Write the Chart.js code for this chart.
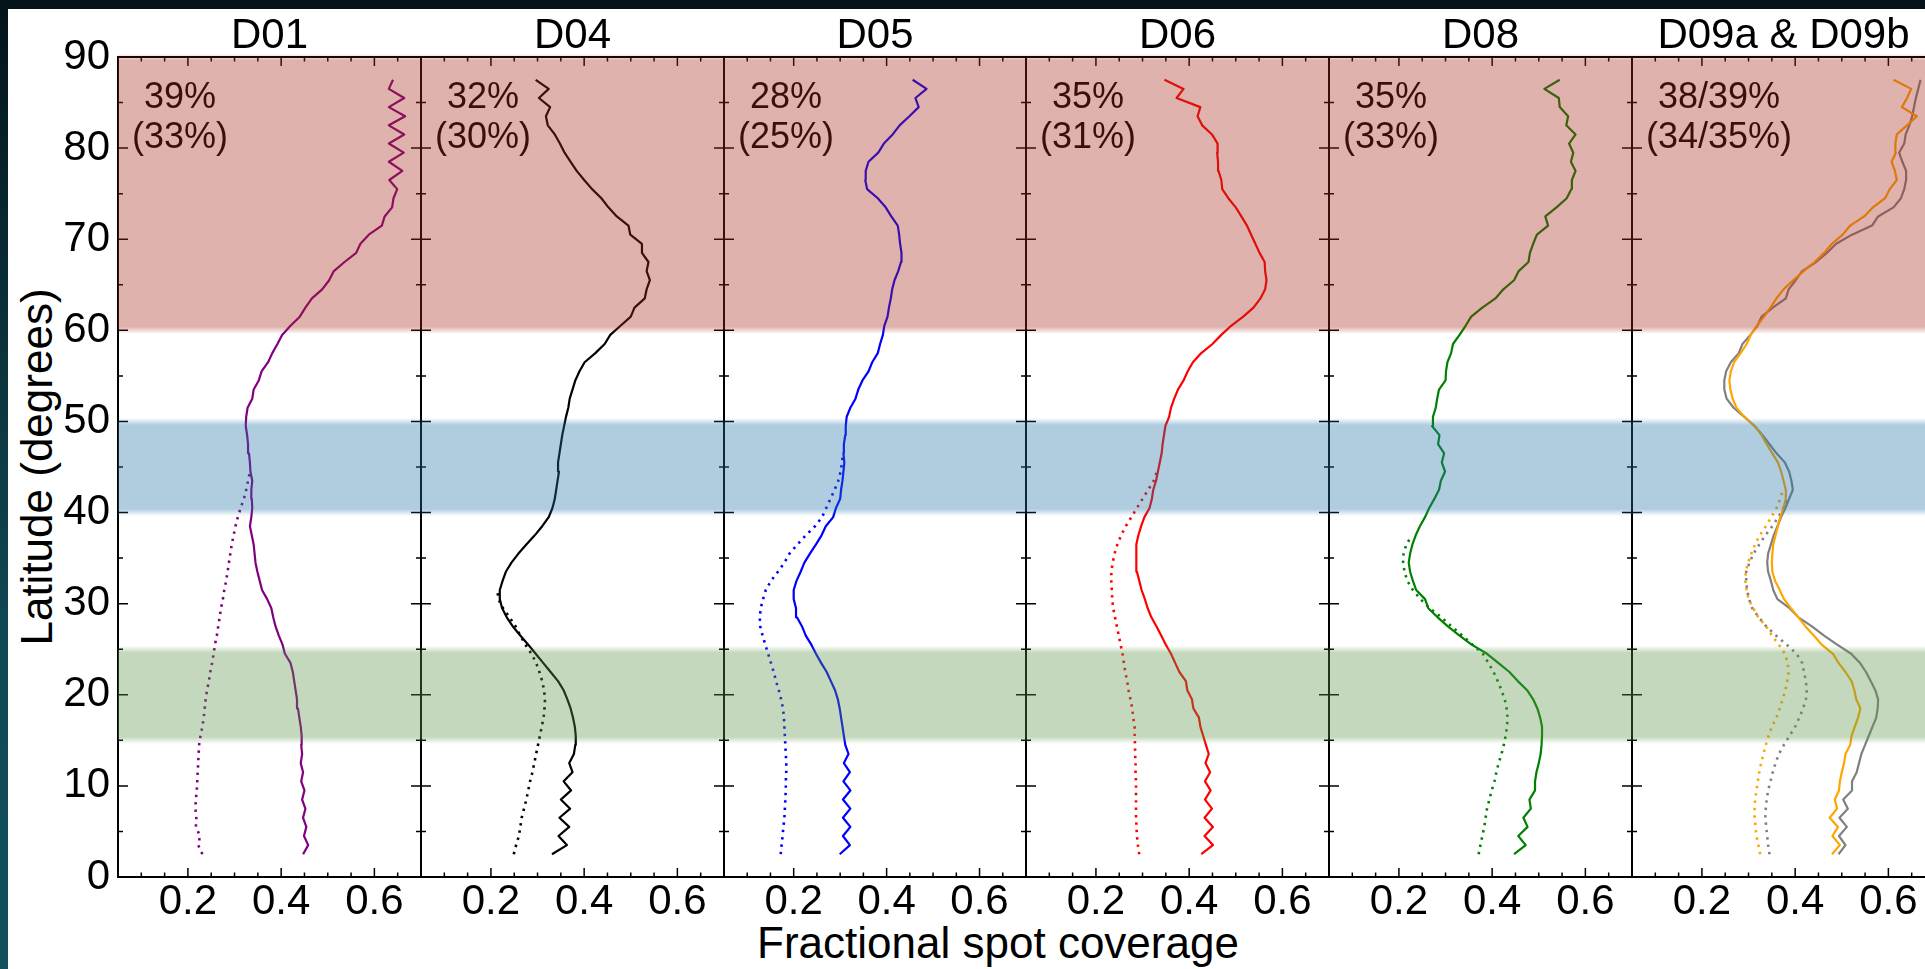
<!DOCTYPE html>
<html>
<head>
<meta charset="utf-8">
<title>Fractional spot coverage by latitude</title>
<script src="https://cdn.jsdelivr.net/npm/chart.js@4.4.1/dist/chart.umd.min.js"></script>
<style>
  html, body { margin: 0; padding: 0; background: #fff; }
  body { width: 1925px; height: 969px; position: relative; overflow: hidden;
         font-family: 'Liberation Sans', Arial, sans-serif; }
  canvas { position: absolute; top: 0; }
  #topbar { position: absolute; left: 0; top: 0; width: 1925px; height: 9px; background: #04131a; z-index: 5; }
  #sidebar { position: absolute; left: 0; top: 0; width: 8px; height: 969px; z-index: 5;
             background: linear-gradient(#04131a 0%, #0a2e36 30%, #0f4853 65%, #11525d 100%); }
  .axis-title { position: absolute; font-size: 44px; line-height: 44px; color: #000; white-space: nowrap; }
</style>
</head>
<body>
<div id="topbar"></div>
<div id="sidebar"></div>
<div class="axis-title" style="left:998px; top:921px; transform:translateX(-50%);">Fractional spot coverage</div>
<div class="axis-title" style="left:37px; top:467px; transform:translate(-50%,-50%) rotate(-90deg);">Latitude (degrees)</div>

<script>
// Latitude grid (degrees) shared by every profile
const LATITUDE = [
  2.5, 3.5, 4.5, 5.5, 6.5, 7.5, 8.5, 9.5, 10.5, 11.5,
  12.5, 13.5, 14.5, 15.5, 16.5, 17.5, 18.5, 19.5, 20.5, 21.5,
  22.5, 23.5, 24.5, 25.5, 26.5, 27.5, 28.5, 29.5, 30.5, 31.5,
  32.5, 33.5, 34.5, 35.5, 36.5, 37.5, 38.5, 39.5, 40.5, 41.5,
  42.5, 43.5, 44.5, 45.5, 46.5, 47.5, 48.5, 49.5, 50.5, 51.5,
  52.5, 53.5, 54.5, 55.5, 56.5, 57.5, 58.5, 59.5, 60.5, 61.5,
  62.5, 63.5, 64.5, 65.5, 66.5, 67.5, 68.5, 69.5, 70.5, 71.5,
  72.5, 73.5, 74.5, 75.5, 76.5, 77.5, 78.5, 79.5, 80.5, 81.5,
  82.5, 83.5, 84.5, 85.5, 86.5, 87.5
];

// Panel titles and the coverage figures printed in each panel
const PANEL_TITLES = ['D01', 'D04', 'D05', 'D06', 'D08', 'D09a & D09b'];
const COVERAGE_LINE1 = ['39%', '32%', '28%', '35%', '35%', '38/39%'];
const COVERAGE_LINE2 = ['(33%)', '(30%)', '(25%)', '(31%)', '(33%)', '(34/35%)'];

// Axis ticks
const Y_MAJOR = [0, 10, 20, 30, 40, 50, 60, 70, 80, 90];
const Y_MINOR = [5, 15, 25, 35, 45, 55, 65, 75, 85];
const X_MAJOR = [0.2, 0.4, 0.6];
const X_MINOR = [0.1, 0.15, 0.25, 0.3, 0.35, 0.45, 0.5, 0.55, 0.65];
const X_RANGE = [0.05, 0.70];
const Y_RANGE = [0, 90];

// Shaded latitude bands (degrees)
const BAND_LO = [60, 40, 15];
const BAND_HI = [90, 50, 25];

// Solid profiles: coverage at each LATITUDE value
const D01_SOLID = [
  0.447,0.458,0.449,0.454,0.447,0.452,0.445,0.450,0.443,0.447,
  0.442,0.445,0.443,0.444,0.442,0.439,0.436,0.434,0.431,0.428,
  0.425,0.420,0.408,0.403,0.395,0.388,0.383,0.379,0.370,0.359,
  0.354,0.349,0.345,0.343,0.341,0.337,0.333,0.336,0.338,0.337,
  0.336,0.338,0.334,0.333,0.331,0.329,0.327,0.324,0.325,0.328,
  0.338,0.341,0.352,0.358,0.372,0.381,0.392,0.402,0.420,0.440,
  0.452,0.466,0.488,0.503,0.513,0.536,0.561,0.570,0.588,0.616,
  0.622,0.638,0.641,0.649,0.632,0.660,0.631,0.663,0.631,0.664,
  0.631,0.666,0.631,0.664,0.631,0.640
];
const D04_SOLID = [
  0.331,0.363,0.345,0.368,0.347,0.370,0.350,0.372,0.356,0.375,
  0.368,0.378,0.381,0.382,0.380,0.376,0.371,0.364,0.356,0.344,
  0.328,0.312,0.296,0.280,0.263,0.247,0.234,0.224,0.219,0.219,
  0.225,0.232,0.244,0.259,0.276,0.294,0.310,0.324,0.332,0.337,
  0.340,0.343,0.346,0.344,0.347,0.350,0.353,0.357,0.361,0.366,
  0.369,0.375,0.381,0.390,0.401,0.424,0.444,0.456,0.478,0.500,
  0.508,0.530,0.534,0.541,0.534,0.538,0.524,0.524,0.499,0.495,
  0.470,0.452,0.437,0.417,0.400,0.384,0.371,0.358,0.348,0.337,
  0.322,0.318,0.327,0.303,0.324,0.296
];
const D05_SOLID = [
  0.299,0.321,0.306,0.322,0.306,0.322,0.306,0.322,0.307,0.321,
  0.308,0.318,0.311,0.308,0.305,0.302,0.299,0.295,0.289,0.280,
  0.271,0.259,0.248,0.238,0.226,0.218,0.207,0.205,0.200,0.200,
  0.206,0.215,0.223,0.235,0.248,0.260,0.269,0.285,0.291,0.300,
  0.302,0.305,0.307,0.309,0.307,0.308,0.311,0.312,0.314,0.322,
  0.333,0.339,0.348,0.361,0.369,0.381,0.386,0.392,0.395,0.402,
  0.405,0.409,0.412,0.417,0.425,0.431,0.432,0.429,0.427,0.424,
  0.410,0.398,0.381,0.358,0.354,0.355,0.361,0.382,0.394,0.413,
  0.428,0.449,0.469,0.462,0.486,0.456
];
const D06_SOLID = [
  0.426,0.451,0.433,0.451,0.433,0.449,0.434,0.446,0.434,0.445,
  0.435,0.442,0.436,0.430,0.424,0.421,0.409,0.406,0.396,0.393,
  0.379,0.370,0.361,0.350,0.340,0.330,0.319,0.311,0.305,0.298,
  0.293,0.288,0.286,0.286,0.288,0.291,0.297,0.304,0.315,0.320,
  0.323,0.329,0.333,0.337,0.341,0.343,0.346,0.349,0.357,0.361,
  0.368,0.376,0.388,0.397,0.408,0.426,0.450,0.469,0.490,0.516,
  0.538,0.553,0.563,0.566,0.563,0.562,0.551,0.542,0.533,0.524,
  0.512,0.500,0.484,0.471,0.469,0.463,0.462,0.460,0.461,0.449,
  0.428,0.418,0.424,0.373,0.388,0.347
];
const D08_SOLID = [
  0.447,0.472,0.456,0.476,0.467,0.483,0.480,0.492,0.492,0.495,
  0.500,0.504,0.506,0.507,0.507,0.503,0.497,0.488,0.475,0.455,
  0.437,0.413,0.389,0.356,0.330,0.305,0.283,0.263,0.256,0.237,
  0.230,0.224,0.221,0.224,0.229,0.236,0.245,0.256,0.265,0.276,
  0.286,0.290,0.299,0.292,0.297,0.284,0.287,0.271,0.273,0.279,
  0.282,0.286,0.300,0.301,0.304,0.312,0.316,0.330,0.343,0.355,
  0.379,0.407,0.424,0.447,0.457,0.478,0.481,0.488,0.496,0.520,
  0.514,0.538,0.560,0.570,0.571,0.579,0.569,0.574,0.565,0.579,
  0.559,0.563,0.545,0.543,0.512,0.545
];
const D09A_SOLID = [
  0.479,0.496,0.480,0.492,0.474,0.490,0.485,0.494,0.496,0.500,
  0.505,0.508,0.518,0.521,0.528,0.535,0.540,0.531,0.527,0.521,
  0.508,0.493,0.481,0.457,0.440,0.422,0.407,0.391,0.376,0.367,
  0.357,0.351,0.350,0.351,0.353,0.358,0.363,0.368,0.375,0.380,
  0.380,0.375,0.370,0.363,0.351,0.339,0.328,0.313,0.291,0.274,
  0.266,0.261,0.259,0.262,0.269,0.283,0.296,0.305,0.318,0.333,
  0.347,0.360,0.375,0.396,0.418,0.442,0.462,0.479,0.502,0.518,
  0.548,0.567,0.593,0.603,0.618,0.614,0.607,0.616,0.615,0.618,
  0.640,0.661,0.629,0.640,0.649,0.611
];
const D09B_SOLID = [
  0.493,0.508,0.494,0.511,0.495,0.513,0.503,0.522,0.522,0.532,
  0.537,0.542,0.550,0.558,0.566,0.574,0.577,0.578,0.572,0.562,
  0.552,0.539,0.520,0.490,0.462,0.436,0.407,0.388,0.362,0.353,
  0.348,0.342,0.340,0.342,0.348,0.354,0.362,0.370,0.379,0.387,
  0.395,0.392,0.387,0.378,0.360,0.345,0.330,0.313,0.291,0.268,
  0.253,0.248,0.248,0.252,0.262,0.279,0.287,0.304,0.319,0.328,
  0.352,0.380,0.386,0.401,0.415,0.445,0.468,0.488,0.522,0.565,
  0.578,0.611,0.627,0.634,0.638,0.638,0.630,0.623,0.634,0.637,
  0.645,0.651,0.655,0.659,0.664,0.669
];

// Dotted profiles: coverage from LATITUDE[0] upward until they join the solid curve
const D01_DOTTED = [
  0.231,0.222,0.226,0.217,0.218,0.216,0.217,0.219,0.220,0.221,
  0.222,0.223,0.224,0.227,0.231,0.234,0.236,0.238,0.241,0.245,
  0.248,0.252,0.255,0.258,0.262,0.265,0.268,0.271,0.275,0.278,
  0.282,0.285,0.288,0.291,0.294,0.298,0.302,0.307,0.313,0.320,
  0.325,0.329,0.333
];
const D04_DOTTED = [
  0.249,0.254,0.260,0.263,0.266,0.271,0.276,0.280,0.284,0.289,
  0.293,0.297,0.301,0.305,0.309,0.313,0.315,0.316,0.314,0.310,
  0.304,0.297,0.287,0.274,0.263,0.253,0.240,0.226,0.216,0.214
];
const D05_DOTTED = [
  0.172,0.174,0.176,0.178,0.180,0.181,0.182,0.183,0.183,0.184,
  0.184,0.183,0.182,0.181,0.180,0.179,0.177,0.173,0.168,0.162,
  0.157,0.151,0.145,0.139,0.133,0.128,0.127,0.129,0.134,0.140,
  0.151,0.166,0.180,0.191,0.208,0.226,0.246,0.261,0.270,0.279,
  0.288,0.296,0.301,0.304,0.306
];
const D06_DOTTED = [
  0.293,0.290,0.288,0.287,0.286,0.286,0.286,0.286,0.286,0.285,
  0.285,0.284,0.284,0.283,0.283,0.280,0.278,0.274,0.270,0.267,
  0.263,0.260,0.257,0.253,0.249,0.245,0.241,0.237,0.235,0.234,
  0.233,0.233,0.236,0.240,0.246,0.254,0.264,0.276,0.288,0.300,
  0.312,0.324,0.331
];
const D08_DOTTED = [
  0.371,0.375,0.379,0.383,0.386,0.389,0.394,0.399,0.405,0.409,
  0.414,0.420,0.425,0.429,0.432,0.433,0.431,0.427,0.420,0.412,
  0.403,0.392,0.380,0.358,0.336,0.313,0.291,0.266,0.246,0.230,
  0.218,0.212,0.209,0.210,0.216,0.228
];
const D09A_DOTTED = [
  0.325,0.321,0.317,0.315,0.313,0.313,0.314,0.317,0.320,0.323,
  0.327,0.332,0.337,0.343,0.350,0.360,0.367,0.373,0.379,0.383,
  0.386,0.384,0.378,0.365,0.350,0.338,0.321,0.310,0.300,0.296,
  0.293,0.294,0.299,0.306,0.314,0.324,0.337,0.349,0.360,0.368,
  0.374
];
const D09B_DOTTED = [
  0.345,0.342,0.340,0.338,0.336,0.337,0.339,0.342,0.347,0.352,
  0.358,0.365,0.376,0.388,0.400,0.409,0.417,0.423,0.425,0.423,
  0.419,0.415,0.403,0.382,0.359,0.338,0.322,0.308,0.301,0.297,
  0.295,0.295,0.302,0.311,0.323,0.336,0.351,0.364,0.375,0.385
];

// ---- layout and styling ----
const PAGE_H = 969;
const PLOT_TOP = 57;          // pixel row of 90 deg
const X_AXIS_BOX = 92;        // space under the plots for tick labels
const PANEL_LEFT = [118, 421, 724, 1026, 1329, 1632];
const PANEL_WIDTH = [303, 303, 302, 303, 303, 303];
const BAND_RGB = [[166, 41, 27], [36, 116, 169], [91, 147, 72]];
const BAND_ALPHA = 0.36;
const BAND_SOFT = 3.5;

const panels = [
  [{ v: D01_SOLID, c: '#800080' }, { v: D01_DOTTED, c: '#800080', dot: true }],
  [{ v: D04_SOLID, c: '#000000' }, { v: D04_DOTTED, c: '#000000', dot: true }],
  [{ v: D05_SOLID, c: '#0000ff' }, { v: D05_DOTTED, c: '#0000ff', dot: true }],
  [{ v: D06_SOLID, c: '#ff0000' }, { v: D06_DOTTED, c: '#ff0000', dot: true }],
  [{ v: D08_SOLID, c: '#008000' }, { v: D08_DOTTED, c: '#008000', dot: true }],
  [{ v: D09A_SOLID, c: '#ffa500' }, { v: D09B_SOLID, c: '#808080' },
   { v: D09A_DOTTED, c: '#ffa500', dot: true }, { v: D09B_DOTTED, c: '#808080', dot: true }]
];

Chart.defaults.font.family = "'Liberation Sans', Arial, sans-serif";
Chart.defaults.color = '#000';

// Frame, inward ticks, panel title, coverage text and the translucent bands on top
const panelDecor = {
  id: 'panelDecor',
  afterDraw(chart, args, opts) {
    const { ctx, chartArea: a } = chart;
    const x = chart.scales.x, y = chart.scales.y;
    ctx.save();

    ctx.strokeStyle = '#000';
    ctx.lineWidth = 2;
    ctx.strokeRect(a.left, a.top, a.right - a.left, a.bottom - a.top);

    ctx.lineWidth = 1.5;
    ctx.beginPath();
    const yTick = (v, len) => {
      const py = y.getPixelForValue(v);
      ctx.moveTo(a.left, py); ctx.lineTo(a.left + len, py);
      ctx.moveTo(a.right, py); ctx.lineTo(a.right - len, py);
    };
    const xTick = (v, len) => {
      const px = x.getPixelForValue(v);
      ctx.moveTo(px, a.bottom); ctx.lineTo(px, a.bottom - len);
      ctx.moveTo(px, a.top); ctx.lineTo(px, a.top + len);
    };
    Y_MAJOR.forEach(v => yTick(v, 10));
    Y_MINOR.forEach(v => yTick(v, 5));
    X_MAJOR.forEach(v => xTick(v, 9));
    X_MINOR.forEach(v => xTick(v, 4.5));
    ctx.stroke();

    ctx.fillStyle = '#000';
    ctx.textBaseline = 'alphabetic';
    ctx.textAlign = 'center';
    ctx.font = "42px 'Liberation Sans', Arial, sans-serif";
    ctx.fillText(opts.title, (a.left + a.right) / 2, a.top - 9);

    ctx.font = "36px 'Liberation Sans', Arial, sans-serif";
    const w = Math.max(ctx.measureText(opts.line1).width, ctx.measureText(opts.line2).width);
    const cx = a.left + 14 + w / 2;
    ctx.fillText(opts.line1, cx, a.top + 51);
    ctx.fillText(opts.line2, cx, a.top + 91);

    BAND_LO.forEach((lo, i) => {
      const top = y.getPixelForValue(BAND_HI[i]);
      const bot = y.getPixelForValue(lo);
      const h = bot - top + 2 * BAND_SOFT;
      const f = (2 * BAND_SOFT) / h;
      const [r, g, b] = BAND_RGB[i];
      const grad = ctx.createLinearGradient(0, top - BAND_SOFT, 0, bot + BAND_SOFT);
      grad.addColorStop(0, `rgba(${r},${g},${b},0)`);
      grad.addColorStop(f, `rgba(${r},${g},${b},${BAND_ALPHA})`);
      grad.addColorStop(1 - f, `rgba(${r},${g},${b},${BAND_ALPHA})`);
      grad.addColorStop(1, `rgba(${r},${g},${b},0)`);
      ctx.fillStyle = grad;
      ctx.fillRect(a.left, top - BAND_SOFT, a.right - a.left, h);
    });

    ctx.restore();
  }
};

panels.forEach((series, k) => {
  const first = k === 0;
  const yAxisWidth = first ? PANEL_LEFT[0] : 0;
  const width = yAxisWidth + PANEL_WIDTH[k];
  const canvas = document.createElement('canvas');
  canvas.width = width;
  canvas.height = PAGE_H;
  canvas.style.left = (first ? 0 : PANEL_LEFT[k]) + 'px';
  canvas.style.width = width + 'px';
  canvas.style.height = PAGE_H + 'px';
  document.body.appendChild(canvas);

  const datasets = series.map(s => ({
    data: s.v.map((cov, i) => ({ x: cov, y: LATITUDE[i] })),
    showLine: true,
    borderColor: s.c,
    backgroundColor: s.c,
    borderWidth: s.dot ? 2.6 : 2.2,
    borderDash: s.dot ? [2.4, 5] : [],
    borderCapStyle: 'butt',
    borderJoinStyle: 'round',
    pointRadius: 0,
    tension: 0,
    fill: false
  }));

  new Chart(canvas, {
    type: 'scatter',
    data: { datasets },
    plugins: [panelDecor],
    options: {
      responsive: false,
      animation: false,
      events: [],
      layout: { padding: { top: PLOT_TOP, right: 0, bottom: 0, left: 0 } },
      plugins: {
        legend: { display: false },
        tooltip: { enabled: false },
        panelDecor: { title: PANEL_TITLES[k], line1: COVERAGE_LINE1[k], line2: COVERAGE_LINE2[k] }
      },
      scales: {
        x: {
          type: 'linear', min: X_RANGE[0], max: X_RANGE[1],
          grid: { display: false, drawTicks: false },
          border: { display: false },
          afterBuildTicks: s => { s.ticks = X_MAJOR.map(v => ({ value: v })); },
          afterFit: s => { s.height = X_AXIS_BOX; },
          ticks: {
            padding: 4, autoSkip: false, maxRotation: 0, color: '#000',
            font: { size: 42, lineHeight: 1 },
            callback: v => Number(v).toFixed(1)
          }
        },
        y: {
          type: 'linear', min: Y_RANGE[0], max: Y_RANGE[1],
          grid: { display: false, drawTicks: false },
          border: { display: false },
          afterBuildTicks: s => { s.ticks = Y_MAJOR.map(v => ({ value: v })); },
          afterFit: s => { s.width = yAxisWidth; },
          ticks: {
            display: first, padding: 8, autoSkip: false, color: '#000',
            font: { size: 42, lineHeight: 1 },
            callback: v => String(v)
          }
        }
      }
    }
  });
});
</script>
</body>
</html>
